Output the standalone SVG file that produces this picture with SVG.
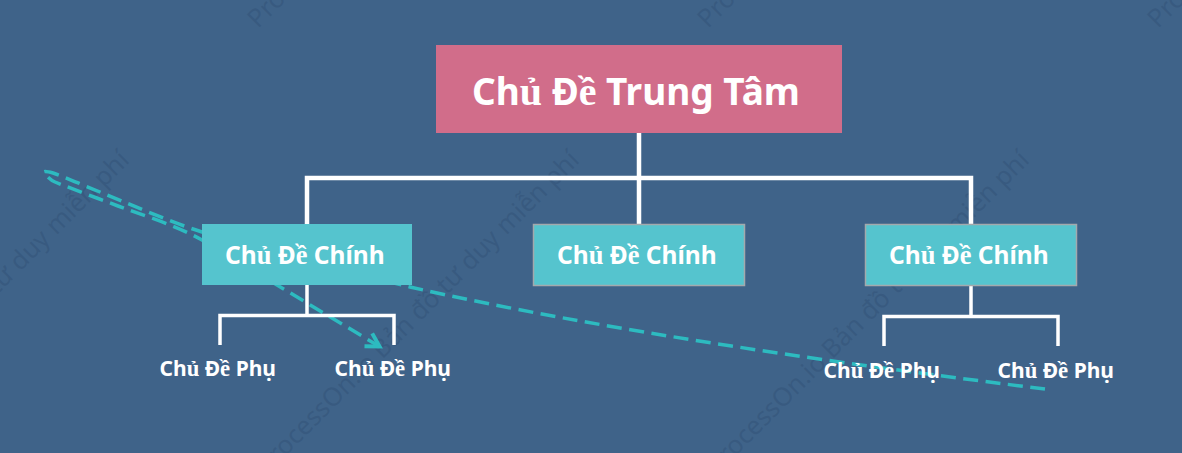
<svg xmlns="http://www.w3.org/2000/svg" width="1182" height="453" viewBox="0 0 1182 453">
<style>
.t{font-family:"Noto Sans","Open Sans","Liberation Sans",sans-serif;font-weight:700;fill:#fff}
.s{font-family:"Liberation Serif",serif;font-weight:700;font-size:1.08em}
.w{font-family:"Noto Sans","Open Sans",sans-serif;font-size:25.500px;fill:#2f4f73;fill-opacity:.42}
.l{fill:none;stroke:#fff;stroke-width:3.500}
.l4{fill:none;stroke:#fff;stroke-width:4.500}
.m{fill:#55c4ce;stroke:#a3a9ad;stroke-width:1.500}
.c{font-size:21px}.b{font-size:24.500px}
</style>
<defs>
<marker id="ah" markerUnits="userSpaceOnUse" markerWidth="20" markerHeight="20" refX="15" refY="10" orient="auto" overflow="visible"><path d="M2,2.500L15,10L2,17.500" fill="none" stroke="#2dbbc0" stroke-width="4"/></marker>
</defs>
<rect width="1182" height="453" fill="#3f6389"/>
<g id="watermarks">
<text class="w" transform="translate(258,29) rotate(-45)">Pro</text>
<text class="w" transform="translate(708,29) rotate(-45)">Pro</text>
<text class="w" transform="translate(1158,29) rotate(-45)">Pro</text>
<text class="w" transform="translate(-183,475) rotate(-45)">ProcessOn.io Bản đồ tư duy miễn phí</text>
<text class="w" transform="translate(267,475) rotate(-45)">ProcessOn.io Bản đồ tư duy miễn phí</text>
<text class="w" transform="translate(717,475) rotate(-45)">ProcessOn.io Bản đồ tư duy miễn phí</text>
</g>
<g id="connectors">
<path id="dashed-link" d="M1045,389C850,365 600,330 410,287C340,270 260,248 202,232C170,222 130,204 100,192C80,184 65,177 53,173Q42,170 44,173Q50,180 55,182C75,190 97,198 118,206C145,216 175,225 202,240L379.500,346.500" fill="none" stroke="#2dbbc0" stroke-width="3.500" stroke-dasharray="15 7.500" marker-end="url(#ah)"/>
<path class="l4" d="M639,133V224M307,224V178H971V224"/>
<path class="l" d="M307,285V315M220,345V315.500H394V345"/>
<path class="l" d="M971,286V316M884,346V316.500H1058V346"/>
</g>
<g id="root"><rect x="436" y="45" width="406" height="88" fill="#d16d8a"/>
<text class="t" x="472" y="105" font-size="37">Ch<tspan class="s">ủ</tspan> Đ<tspan class="s">ề</tspan> Trung Tâm</text></g>
<g id="main-1"><rect x="202" y="224" width="210" height="61" fill="#55c4ce"/>
<text class="t b" x="225" y="264">Ch<tspan class="s">ủ</tspan> Đ<tspan class="s">ề</tspan> Chính</text></g>
<g id="main-2"><rect class="m" x="533.500" y="224.500" width="211" height="61"/>
<text class="t b" x="557" y="264">Ch<tspan class="s">ủ</tspan> Đ<tspan class="s">ề</tspan> Chính</text></g>
<g id="main-3"><rect class="m" x="865.500" y="224.500" width="211" height="61"/>
<text class="t b" x="889" y="264">Ch<tspan class="s">ủ</tspan> Đ<tspan class="s">ề</tspan> Chính</text></g>
<g id="sub-1"><text class="t c" x="159.500" y="376">Ch<tspan class="s">ủ</tspan> Đ<tspan class="s">ề</tspan> Phụ</text></g>
<g id="sub-2"><text class="t c" x="334.500" y="376">Ch<tspan class="s">ủ</tspan> Đ<tspan class="s">ề</tspan> Phụ</text></g>
<g id="sub-3"><text class="t c" x="823.500" y="378">Ch<tspan class="s">ủ</tspan> Đ<tspan class="s">ề</tspan> Phụ</text></g>
<g id="sub-4"><text class="t c" x="997.500" y="378">Ch<tspan class="s">ủ</tspan> Đ<tspan class="s">ề</tspan> Phụ</text></g>
</svg>
